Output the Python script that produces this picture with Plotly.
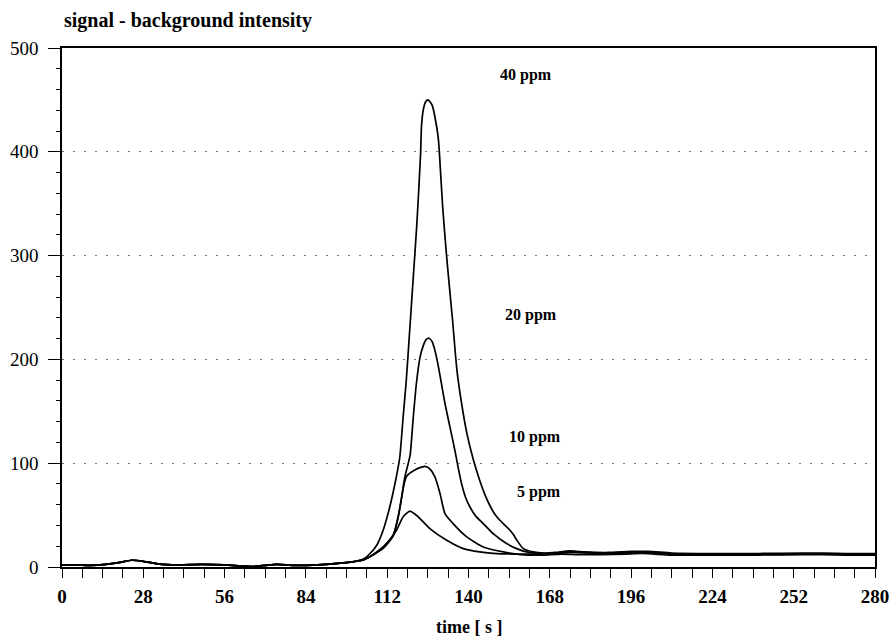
import plotly.graph_objects as go

# ---------------- data ----------------
# common pre-peak baseline (time in s, intensity)
base_t = [0, 5, 10, 15, 20, 24, 28, 33, 40, 48, 56, 62, 66, 70, 74, 80, 88, 95, 100]
base_v = [2, 2, 1.5, 2.5, 4.5, 6.5, 5.5, 3, 2, 2.5, 2, 1, 0.5, 1.5, 2.5, 1.5, 2, 3.5, 5]

# 40 ppm
peak40_t = [104, 106.1, 108.4, 110.6, 112.9, 114.7, 116.3, 117.5, 118.5, 119.8, 121.0, 122.2,
            123.5, 123.8, 124.4, 125.2, 126.0, 126.8, 127.6, 128.8, 129.6, 130.0, 131.1, 132.5,
            134.5, 136.0, 137.6, 139.5, 141.6, 143.9, 145.6, 147.4, 149.0, 150.8, 152.6, 154.3,
            155.5, 156.6, 158.9, 162.3]
peak40_v = [8, 13, 21, 35.4, 58, 80.7, 105, 145, 177, 230, 280, 330,
            398, 424, 440, 448, 450, 448, 444, 428, 413, 398, 347, 298,
            238, 190, 158, 128, 104, 83, 70, 59, 51, 45, 40, 35.4,
            31, 26, 17.7, 14.5]
tail40_t = [166, 170, 175, 180, 188, 196, 202, 210, 224, 240, 255, 270, 280]
tail40_v = [13.5, 14, 15.5, 14.5, 14, 15, 15, 13.5, 13, 13, 13.5, 13, 13]

# 20 ppm
peak20_t = [104, 106.1, 110.6, 114.1, 115.8, 117.0, 118.1, 119.0, 119.9, 121.0, 122.1, 123.3,
            124.4, 125.4, 126.4, 127.5, 128.5, 129.5, 130.6, 131.9, 133.6, 135.3, 136.5, 137.6,
            139.0, 140.5, 142.5, 145.1, 148.5, 153.1, 156.6, 160.0]
peak20_v = [7, 10, 19, 31, 48.5, 67.5, 87, 97, 108, 145, 178, 202,
            213, 219, 220.4, 217, 208, 195, 178, 157.5, 135, 112.5, 95, 80.4,
            67, 57.8, 49, 41.8, 32.1, 22.6, 17.7, 14.5]
tail20_t = [164, 170, 175, 180, 188, 196, 202, 210, 224, 240, 255, 270, 280]
tail20_v = [13, 13.5, 15, 14, 13, 14, 14.5, 12.5, 12.5, 12, 12.5, 12.5, 12.5]

# 10 ppm
peak10_t = [104, 106.1, 110.6, 114.1, 115.8, 117.0, 117.8, 118.7, 119.8, 121.2, 123.0, 125.0,
            126.5, 128.4, 130.2, 131.9, 134.7, 139.4, 145.1, 152.0]
peak10_v = [7, 10, 18, 30, 48.5, 67.5, 80, 87.5, 90.5, 93, 95.5, 97,
            95, 87, 70.7, 51.4, 41.8, 29, 19.3, 14.5]
tail10_t = [158, 165, 172, 178, 186, 194, 200, 210, 224, 240, 255, 270, 280]
tail10_v = [12, 11.5, 12.5, 12, 12, 12.5, 13, 11.5, 11.5, 11.5, 12, 11.5, 11.5]

# 5 ppm
peak5_t = [104, 106.1, 108.4, 111.8, 115.2, 117.5, 119.8, 121.5, 123.3, 126.7, 132.5, 138.2,
           143.9, 149.7]
peak5_v = [7, 10, 14.5, 22.6, 35.4, 48.5, 53.8, 51, 46.7, 37, 25.7, 17.7,
           14.5, 12.9]
tail5_t = [156, 163, 170, 176, 184, 192, 200, 210, 224, 240, 255, 270, 280]
tail5_v = [12.5, 12.5, 13, 14, 13, 13.5, 14, 12.5, 12.5, 12.5, 12.5, 12.5, 12]

series_names = ["40 ppm", "20 ppm", "10 ppm", "5 ppm"]
series_t = [base_t + peak40_t + tail40_t,
            base_t + peak20_t + tail20_t,
            base_t + peak10_t + tail10_t,
            base_t + peak5_t + tail5_t]
series_v = [base_v + peak40_v + tail40_v,
            base_v + peak20_v + tail20_v,
            base_v + peak10_v + tail10_v,
            base_v + peak5_v + tail5_v]

x_ticks = [0, 28, 56, 84, 112, 140, 168, 196, 224, 252, 280]
y_ticks = [0, 100, 200, 300, 400, 500]

# ---------------- figure ----------------
SERIF = "Liberation Serif, Times New Roman, serif"

fig = go.Figure()
for name, t, v in zip(series_names, series_t, series_v):
    fig.add_trace(go.Scatter(x=t, y=v, mode="lines", name=name,
                             line=dict(color="black", width=1.7, shape="spline", smoothing=0.6),
                             cliponaxis=True, showlegend=False))

label_pos = {"40 ppm": (159.8, 474), "20 ppm": (161.5, 243), "10 ppm": (163.0, 125.5), "5 ppm": (164.3, 72.7)}
for name in series_names:
    lx, ly = label_pos[name]
    fig.add_annotation(x=lx, y=ly, xref="x", yref="y", text=name, showarrow=False,
                       font=dict(family=SERIF, size=16, color="black", weight="bold"))

fig.add_annotation(x=0, y=1, xref="paper", yref="paper", xanchor="left", yanchor="bottom",
                   yshift=14, text="signal - background intensity", showarrow=False,
                   font=dict(family=SERIF, size=20, color="black", weight="bold"))

fig.add_annotation(x=0.5, y=0, xref="paper", yref="paper", xanchor="center", yanchor="middle",
                   yshift=-60, text="time [ s ]", showarrow=False,
                   font=dict(family=SERIF, size=18, color="black", weight="bold"))

fig.update_layout(
    width=892, height=640,
    margin=dict(l=62, r=17, t=48, b=73),
    paper_bgcolor="white", plot_bgcolor="white",
    showlegend=False,
)
fig.update_xaxes(
    range=[0, 280], tickvals=x_ticks, ticktext=[str(v) for v in x_ticks],
    automargin=False,
    ticks="outside", ticklen=9, tickwidth=1.4, tickcolor="black",
    showline=True, linecolor="black", linewidth=1.6, mirror=True,
    showgrid=False, zeroline=False,
    minor=dict(dtick=7, tick0=0, ticks="outside", ticklen=9, tickwidth=1.2, tickcolor="black", showgrid=False),
    tickfont=dict(family=SERIF, size=19, color="black", weight="bold"),
    ticklabelstandoff=2,
)
fig.update_yaxes(
    range=[0, 500], tickvals=y_ticks, ticktext=[str(v) for v in y_ticks],
    automargin=False,
    ticks="outside", ticklen=12, tickwidth=1.3, tickcolor="black",
    showline=True, linecolor="black", linewidth=1.6, mirror=True,
    showgrid=True, gridcolor="#777777", gridwidth=1, griddash="2px,9px",
    zeroline=False,
    minor=dict(dtick=20, tick0=0, ticks="outside", ticklen=4, tickwidth=1, tickcolor="black", showgrid=False),
    tickfont=dict(family=SERIF, size=19, color="black"),
    ticklabelstandoff=6,
)

fig.write_html("out.html")
